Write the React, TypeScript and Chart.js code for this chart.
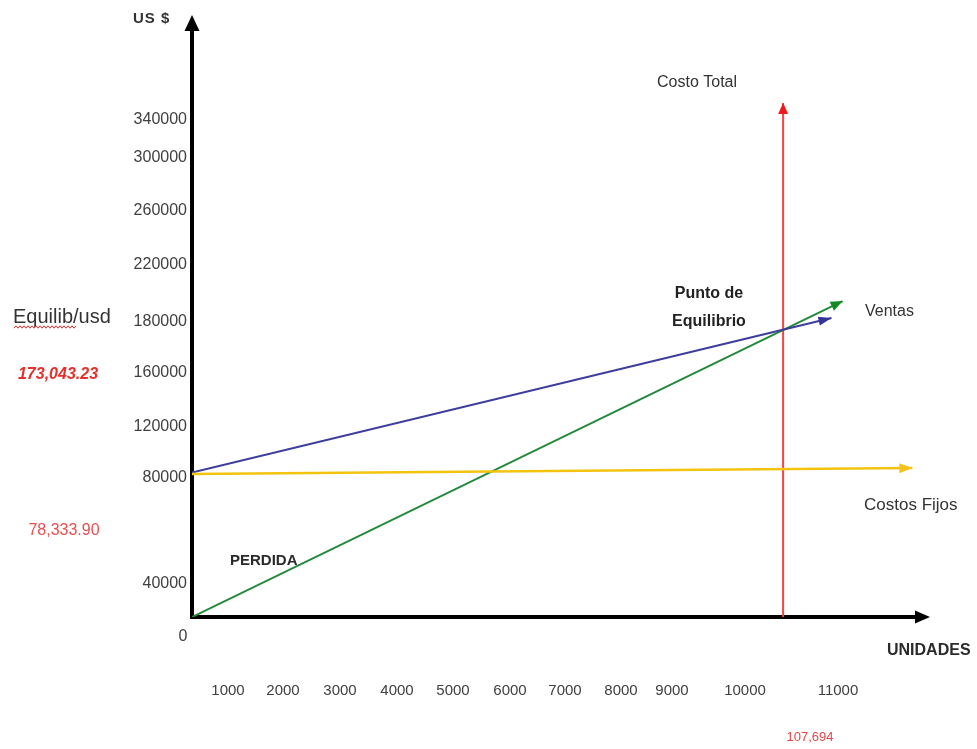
import { useEffect, useRef } from 'react';
import { Chart, registerables, LinearScale } from 'chart.js';

Chart.register(...registerables);

// ---- Axis ticks ----
const unitTicks = [1000, 2000, 3000, 4000, 5000, 6000, 7000, 8000, 9000, 10000, 11000];
const usdTicks = [40000, 80000, 120000, 160000, 180000, 220000, 260000, 300000, 340000];

// ---- Series (x = unidades, y = US $) ----
const fixedCostUnits = [0, 11800];
const fixedCostUsd = [83100, 87800];

const blueLineUnits = [0, 10930];
const blueLineUsd = [84200, 182800];

const greenLineUnits = [0, 11050];
const greenLineUsd = [0, 194700];

const breakEvenUnits = [10410, 10410];
const breakEvenUsd = [0, 358000];

// ---- Axis layout: where each tick sits along the plot (0 = origin, 1 = arrow end) ----
const unitKnotValues = [0, ...unitTicks];
const unitKnotFractions = [0, 0.0488, 0.1233, 0.2005, 0.2778, 0.3537, 0.4309, 0.5054, 0.5813, 0.6504, 0.7493, 0.8753];
const usdKnotValues = [0, ...usdTicks];
const usdKnotFractions = [0, 0.055, 0.2317, 0.3167, 0.4067, 0.4917, 0.5867, 0.6767, 0.765, 0.8283];

function interp(xs: number[], ys: number[], v: number): number {
  const n = xs.length;
  let i = 0;
  if (v <= xs[0]) i = 0;
  else if (v >= xs[n - 1]) i = n - 2;
  else {
    while (v > xs[i + 1]) i++;
  }
  const t = (v - xs[i]) / (xs[i + 1] - xs[i]);
  return ys[i] + t * (ys[i + 1] - ys[i]);
}

// Linear scale whose spacing follows hand-placed tick positions
function makeKnotScale(id: string, values: number[], fractions: number[]) {
  return class extends LinearScale {
    static id = id;
    static defaults = LinearScale.defaults;
    getPixelForValue(value: number) {
      return this.getPixelForDecimal(interp(values, fractions, value));
    }
    getValueForPixel(pixel: number) {
      return interp(fractions, values, this.getDecimalForPixel(pixel));
    }
  };
}

const UnitScale = makeKnotScale('knotUnits', unitKnotValues, unitKnotFractions);
const UsdScale = makeKnotScale('knotUsd', usdKnotValues, usdKnotFractions);
Chart.register(UnitScale as any, UsdScale as any);

const FONT = '"Liberation Sans", Arial, sans-serif';

function pairs(xs: number[], ys: number[]) {
  return xs.map((x, i) => ({ x, y: ys[i] }));
}

function arrowHead(ctx: CanvasRenderingContext2D, fx: number, fy: number, tx: number, ty: number, len: number, half: number, color: string) {
  const a = Math.atan2(ty - fy, tx - fx);
  const bx = tx - len * Math.cos(a);
  const by = ty - len * Math.sin(a);
  const nx = -Math.sin(a);
  const ny = Math.cos(a);
  ctx.save();
  ctx.fillStyle = color;
  ctx.beginPath();
  ctx.moveTo(tx, ty);
  ctx.lineTo(bx + nx * half, by + ny * half);
  ctx.lineTo(bx - nx * half, by - ny * half);
  ctx.closePath();
  ctx.fill();
  ctx.restore();
}

function text(ctx: CanvasRenderingContext2D, s: string, x: number, y: number, font: string, color: string, align: CanvasTextAlign = 'left', spacing = '0px') {
  ctx.save();
  ctx.font = font;
  ctx.fillStyle = color;
  ctx.textAlign = align;
  ctx.textBaseline = 'middle';
  (ctx as any).letterSpacing = spacing;
  ctx.fillText(s, x, y);
  ctx.restore();
}

const axesPlugin = {
  id: 'breakEvenAxes',
  beforeDatasetsDraw(chart: any) {
    const ctx: CanvasRenderingContext2D = chart.ctx;
    const { left, right, top, bottom } = chart.chartArea;
    ctx.save();
    ctx.strokeStyle = '#000';
    ctx.lineWidth = 4;
    ctx.beginPath();
    ctx.moveTo(left, bottom + 2);
    ctx.lineTo(left, top + 14);
    ctx.moveTo(left - 2, bottom);
    ctx.lineTo(right - 13, bottom);
    ctx.stroke();
    ctx.restore();
    arrowHead(ctx, left, bottom, left, top - 2, 16, 7.5, '#000');
    arrowHead(ctx, left, bottom, right, bottom, 15, 6.5, '#000');
  },
  afterDatasetsDraw(chart: any) {
    const ctx: CanvasRenderingContext2D = chart.ctx;
    chart.data.datasets.forEach((ds: any, i: number) => {
      const pts = chart.getDatasetMeta(i).data;
      if (pts.length < 2) return;
      const a = pts[pts.length - 2];
      const b = pts[pts.length - 1];
      arrowHead(ctx, a.x, a.y, b.x, b.y, ds.arrowLen, ds.arrowHalf, ds.arrowColor);
    });
  },
  afterDraw(chart: any) {
    const ctx: CanvasRenderingContext2D = chart.ctx;
    const xs = chart.scales.x;
    const ys = chart.scales.y;
    const { left, bottom } = chart.chartArea;
    const tickColor = '#404040';

    // Y tick labels
    usdTicks.forEach((v) => {
      text(ctx, String(v), left - 5, ys.getPixelForValue(v), `16px ${FONT}`, tickColor, 'right');
    });
    text(ctx, '0', left - 9, bottom + 20, `16px ${FONT}`, tickColor, 'center');

    // X tick labels
    unitTicks.forEach((v) => {
      text(ctx, String(v), xs.getPixelForValue(v), bottom + 74, `15px ${FONT}`, tickColor, 'center');
    });

    // Axis titles
    text(ctx, 'US $', 133, 19, `bold 15px ${FONT}`, '#333', 'left', '1px');
    text(ctx, 'UNIDADES', 887, 651, `bold 16px ${FONT}`, '#2a2a2a', 'left');

    // Annotations
    text(ctx, 'Costo Total', 657, 83, `16px ${FONT}`, '#333', 'left');
    text(ctx, 'Punto de', 709, 294, `bold 16px ${FONT}`, '#222', 'center');
    text(ctx, 'Equilibrio', 709, 322, `bold 16px ${FONT}`, '#222', 'center');
    text(ctx, 'Ventas', 865, 312, `16px ${FONT}`, '#333', 'left');
    text(ctx, 'Costos Fijos', 864, 505, `17px ${FONT}`, '#333', 'left');
    text(ctx, 'PERDIDA', 230, 561, `bold 15px ${FONT}`, '#2a2a2a', 'left');

    // Left-hand notes
    text(ctx, 'Equilib/usd', 13, 317, `20px ${FONT}`, '#333', 'left');
    ctx.save();
    ctx.strokeStyle = '#e03030';
    ctx.lineWidth = 1;
    ctx.beginPath();
    for (let x = 14; x <= 76; x += 2) {
      const y = 327 + ((x / 2) % 2 === 0 ? -1.2 : 1.2);
      if (x === 14) ctx.moveTo(x, y);
      else ctx.lineTo(x, y);
    }
    ctx.stroke();
    ctx.restore();
    text(ctx, '173,043.23', 58, 375, `italic bold 16px ${FONT}`, '#e3302a', 'center');
    text(ctx, '78,333.90', 64, 531, `16px ${FONT}`, '#e65050', 'center');
    text(ctx, '107,694', 810, 737, `13px ${FONT}`, '#e04848', 'center');
  },
};

export default function App() {
  const canvasRef = useRef<HTMLCanvasElement | null>(null);

  useEffect(() => {
    if (!canvasRef.current) return;
    const chart = new Chart(canvasRef.current, {
      type: 'scatter',
      data: {
        datasets: [
          {
            label: 'Costos Fijos',
            data: pairs(fixedCostUnits, fixedCostUsd),
            borderColor: '#f2c40f',
            borderWidth: 2.5,
            arrowColor: '#f5c21a',
            arrowLen: 13,
            arrowHalf: 5,
          },
          {
            label: 'Ventas',
            data: pairs(blueLineUnits, blueLineUsd),
            borderColor: '#3d3d9e',
            borderWidth: 2,
            arrowColor: '#34349a',
            arrowLen: 13,
            arrowHalf: 4.5,
          },
          {
            label: 'Costo Total',
            data: pairs(greenLineUnits, greenLineUsd),
            borderColor: '#22893a',
            borderWidth: 2,
            arrowColor: '#128a22',
            arrowLen: 12,
            arrowHalf: 5,
          },
          {
            label: 'Punto de Equilibrio',
            data: pairs(breakEvenUnits, breakEvenUsd),
            borderColor: '#ff4040',
            borderWidth: 2,
            arrowColor: '#f01818',
            arrowLen: 11,
            arrowHalf: 5,
          },
        ] as any,
      },
      options: {
        animation: false,
        responsive: true,
        maintainAspectRatio: false,
        showLine: true,
        layout: { padding: { left: 192, right: 47, top: 17, bottom: 132 } },
        elements: { point: { radius: 0, hoverRadius: 0 }, line: { tension: 0 } },
        plugins: { legend: { display: false }, tooltip: { enabled: false } },
        events: [],
        scales: {
          x: { type: 'knotUnits' as any, display: false, min: 0, max: 12000 },
          y: { type: 'knotUsd' as any, display: false, min: 0, max: 360000 },
        },
      },
      plugins: [axesPlugin],
    });
    return () => chart.destroy();
  }, []);

  return (
    <div style={{ position: 'absolute', left: 0, top: 0, width: 977, height: 749, background: '#fff' }}>
      <canvas ref={canvasRef} />
    </div>
  );
}
